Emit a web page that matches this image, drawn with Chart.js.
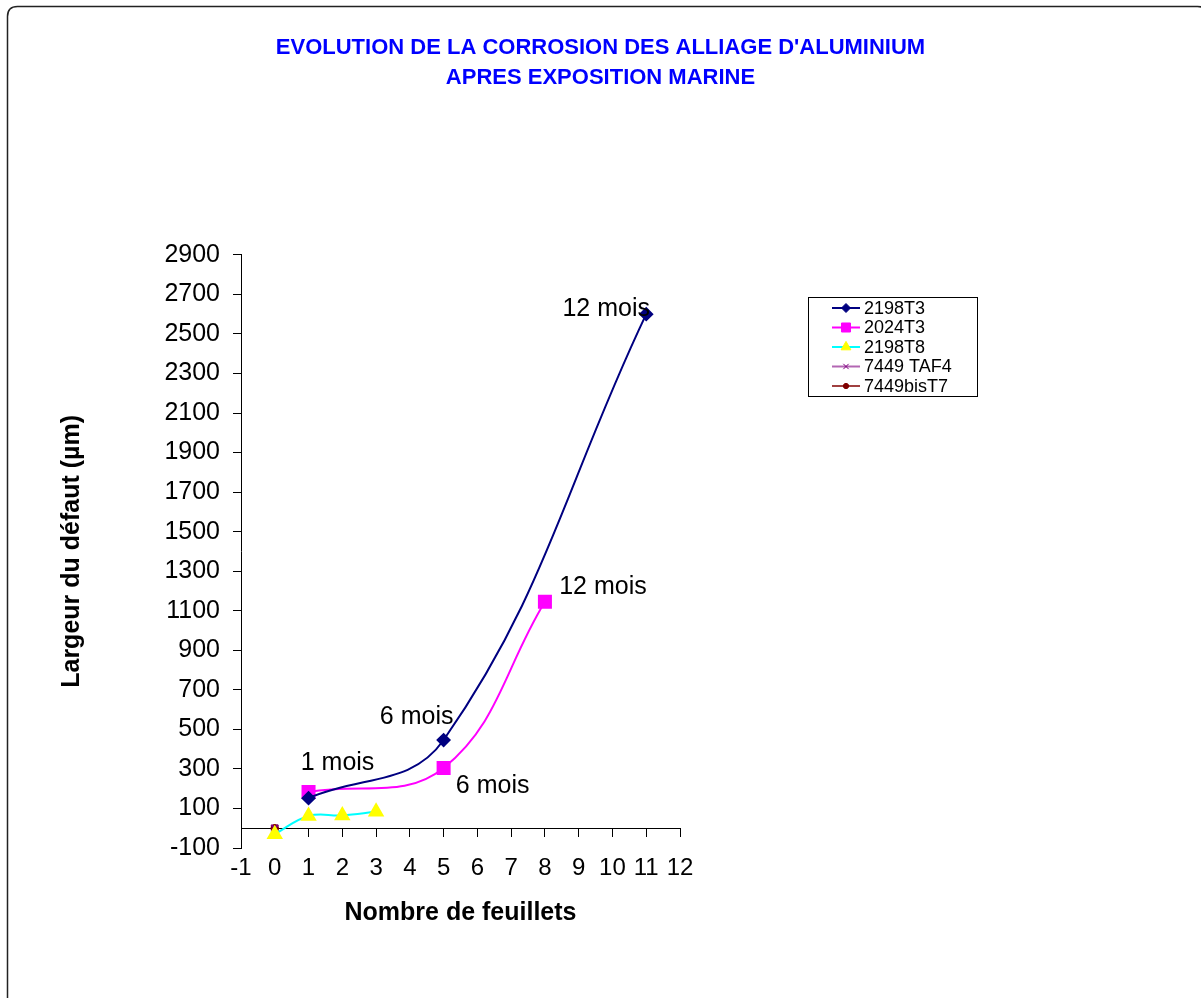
<!DOCTYPE html>
<html>
<head>
<meta charset="utf-8">
<title>Evolution de la corrosion des alliages d'aluminium</title>
<script src="https://cdn.jsdelivr.net/npm/chart.js"></script>
<style>
  html, body { margin: 0; padding: 0; background: #fff; overflow: hidden; }
  #wrap { position: relative; width: 1201px; height: 998px; }
</style>
</head>
<body>
<div id="wrap"><canvas id="chart"></canvas></div>
<script>
// valeurs : nombre de feuillets (x), largeur du defaut en µm (y)
var x2198T3 = [1, 5, 11];
var y2198T3 = [152, 446, 2600];
var lab2198T3 = ['', '6 mois', '12 mois'];

var x2024T3 = [1, 5, 8];
var y2024T3 = [183, 305, 1145];
var lab2024T3 = ['1 mois', '6 mois', '12 mois'];

var x2198T8 = [0, 1, 2, 3];
var y2198T8 = [-30, 62, 65, 83];

var x7449TAF4 = [0];
var y7449TAF4 = [0];

var x7449bisT7 = [0];
var y7449bisT7 = [0];

var seriesNames = ['2198T3', '2024T3', '2198T8', '7449 TAF4', '7449bisT7'];

// bornes et pas des axes
var xMin = -1, xMax = 12, xStep = 1;
var yMin = -100, yMax = 2900, yStep = 200;

// decalage (px) des etiquettes "mois" par rapport au point
var off2198T3 = [[0, 0], [-27, -23], [-40, -5]];
var off2024T3 = [[29, -29], [49, 18], [58, -15]];

var FONT = '"Liberation Sans", Arial, Helvetica, sans-serif';

function pts(xs, ys) {
  return xs.map(function (x, i) { return {x: x, y: ys[i]}; });
}

// cadre arrondi autour du graphique
var framePlugin = {
  id: 'frame',
  beforeDraw: function (chart) {
    var ctx = chart.ctx;
    var x = 7.5, y = 6.5, w = 1200, h = 1010, r = 10;
    ctx.save();
    ctx.fillStyle = '#fff';
    ctx.fillRect(0, 0, chart.width, chart.height);
    ctx.beginPath();
    ctx.moveTo(x + r, y);
    ctx.lineTo(x + w - r, y);
    ctx.quadraticCurveTo(x + w, y, x + w, y + r);
    ctx.lineTo(x + w, y + h - r);
    ctx.quadraticCurveTo(x + w, y + h, x + w - r, y + h);
    ctx.lineTo(x + r, y + h);
    ctx.quadraticCurveTo(x, y + h, x, y + h - r);
    ctx.lineTo(x, y + r);
    ctx.quadraticCurveTo(x, y, x + r, y);
    ctx.strokeStyle = '#222';
    ctx.lineWidth = 1.5;
    ctx.stroke();
    ctx.restore();
  }
};

// etiquettes "1 mois", "6 mois", "12 mois"
var monthLabels = {
  id: 'monthLabels',
  afterDatasetsDraw: function (chart) {
    var ctx = chart.ctx;
    ctx.save();
    ctx.font = '25px ' + FONT;
    ctx.fillStyle = '#000';
    ctx.textAlign = 'center';
    ctx.textBaseline = 'middle';
    chart.data.datasets.forEach(function (ds, i) {
      if (!ds.monthText) return;
      var meta = chart.getDatasetMeta(i);
      ds.monthText.forEach(function (t, j) {
        if (!t) return;
        var p = meta.data[j];
        ctx.fillText(t, p.x + ds.monthOffset[j][0], p.y + ds.monthOffset[j][1]);
      });
    });
    ctx.restore();
  }
};

// legende dans un cadre, a droite
var boxLegend = {
  id: 'boxLegend',
  afterDraw: function (chart) {
    var ctx = chart.ctx;
    ctx.save();
    ctx.strokeStyle = '#000';
    ctx.lineWidth = 1;
    ctx.strokeRect(808.5, 297.5, 169, 99);
    chart.data.datasets.forEach(function (ds, i) {
      var y = 308 + i * 19.5;
      ctx.beginPath();
      ctx.strokeStyle = ds.borderColor;
      ctx.lineWidth = ds.borderWidth;
      ctx.moveTo(832, y);
      ctx.lineTo(860, y);
      ctx.stroke();
      ctx.fillStyle = ds.pointBackgroundColor;
      ctx.strokeStyle = ds.pointBorderColor;
      ctx.lineWidth = 1;
      Chart.helpers.drawPoint(ctx, {
        pointStyle: ds.pointStyle,
        radius: ds.pointRadius * 0.75,
        borderWidth: 1,
        rotation: 0
      }, 846, y);
      ctx.fillStyle = '#000';
      ctx.font = '18px ' + FONT;
      ctx.textAlign = 'left';
      ctx.textBaseline = 'middle';
      ctx.fillText(ds.label, 864, y + 1);
    });
    ctx.restore();
  }
};

var ctx = document.getElementById('chart').getContext('2d');
var chart = new Chart(ctx, {
  type: 'scatter',
  data: {
    datasets: [{
      label: seriesNames[0],
      data: pts(x2198T3, y2198T3),
      monthText: lab2198T3,
      monthOffset: off2198T3,
      showLine: true,
      tension: 0.4,
      borderColor: '#000080',
      borderWidth: 2,
      pointStyle: 'rectRot',
      pointRadius: 6,
      pointBackgroundColor: '#000080',
      pointBorderColor: '#000080'
    }, {
      label: seriesNames[1],
      data: pts(x2024T3, y2024T3),
      monthText: lab2024T3,
      monthOffset: off2024T3,
      showLine: true,
      tension: 0.4,
      borderColor: '#FF00FF',
      borderWidth: 2,
      pointStyle: 'rect',
      pointRadius: 8.5,
      pointBackgroundColor: '#FF00FF',
      pointBorderColor: '#FF00FF'
    }, {
      label: seriesNames[2],
      data: pts(x2198T8, y2198T8),
      showLine: true,
      tension: 0.4,
      borderColor: '#00FFFF',
      borderWidth: 2,
      pointStyle: 'triangle',
      pointRadius: 7.5,
      pointBackgroundColor: '#FFFF00',
      pointBorderColor: '#FFFF00'
    }, {
      label: seriesNames[3],
      data: pts(x7449TAF4, y7449TAF4),
      showLine: true,
      borderColor: '#B366B3',
      borderWidth: 2,
      pointStyle: 'crossRot',
      pointRadius: 5,
      pointBackgroundColor: '#800080',
      pointBorderColor: '#800080'
    }, {
      label: seriesNames[4],
      data: pts(x7449bisT7, y7449bisT7),
      showLine: true,
      borderColor: '#800000',
      borderWidth: 1.5,
      pointStyle: 'circle',
      pointRadius: 3.5,
      pointBackgroundColor: '#800000',
      pointBorderColor: '#800000'
    }]
  },
  options: {
    responsive: true,
    maintainAspectRatio: false,
    animation: false,
    layout: { padding: { left: 0, right: 0, top: 0, bottom: 150 } },
    plugins: {
      legend: { display: false },
      tooltip: { enabled: false },
      title: {
        display: true,
        text: ["EVOLUTION DE LA CORROSION DES ALLIAGE D'ALUMINIUM", 'APRES EXPOSITION MARINE'],
        color: '#0000FF',
        font: { family: FONT, size: 22, weight: 'bold', lineHeight: 1.36 },
        padding: { top: 33, bottom: 162 }
      }
    },
    scales: {
      x: {
        type: 'linear',
        position: { y: 0 },
        min: xMin,
        max: xMax,
        ticks: {
          stepSize: xStep, color: '#000', font: { family: FONT, size: 24 }, padding: 18,
          maxRotation: 0, autoSkip: false,
          callback: function (v) { return String(v); }
        },
        grid: { drawOnChartArea: false, tickLength: 8, color: '#000' },
        border: { color: '#000', width: 1 },
        title: {
          display: true,
          text: 'Nombre de feuillets',
          color: '#000',
          font: { family: FONT, size: 25, weight: 'bold' },
          padding: { top: 0, bottom: 50 }
        },
        afterFit: function (s) { s.height = 150; }
      },
      y: {
        type: 'linear',
        position: 'left',
        min: yMin,
        max: yMax,
        ticks: {
          stepSize: yStep, color: '#000', font: { family: FONT, size: 25 }, padding: 13,
          callback: function (v) { return String(v); }
        },
        grid: { drawOnChartArea: false, tickLength: 8, color: '#000' },
        border: { color: '#000', width: 1 },
        title: {
          display: true,
          text: 'Largeur du défaut (µm)',
          color: '#000',
          font: { family: FONT, size: 25, weight: 'bold' },
          padding: { top: 57, bottom: 0 }
        },
        afterFit: function (s) { s.width = 241; }
      },
      // axe vide a droite : reserve la place de la legende
      yRight: {
        type: 'linear',
        position: 'right',
        display: true,
        ticks: { display: false },
        grid: { display: false, drawTicks: false },
        border: { display: false },
        afterFit: function (s) { s.width = 521; }
      }
    }
  },
  plugins: [framePlugin, monthLabels, boxLegend]
});
</script>
</body>
</html>
